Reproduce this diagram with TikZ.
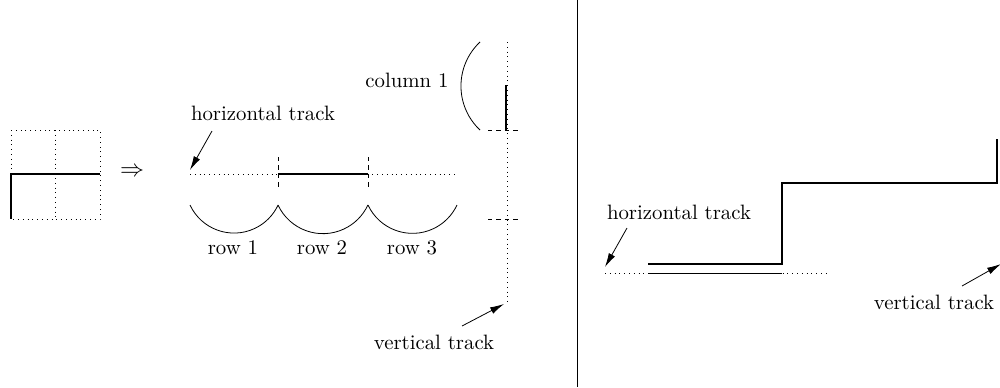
\documentclass[tikz,border=0pt]{standalone}
\usetikzlibrary{arrows.meta}
\begin{document}
\begin{tikzpicture}[x=0.5pt,y=-0.5pt,
  trk/.style={dotted, line width=0.4pt},
  wire/.style={line width=0.8pt},
  tick/.style={dash pattern=on 2.2pt off 2pt, line width=0.4pt},
  lbl/.style={inner sep=0pt, font=\fontsize{10.4}{12.5}\selectfont},
  ptr/.style={-{Latex[length=7pt,width=3.5pt]}, line width=0.4pt},
  brace/.style={line width=0.4pt}]
\useasboundingbox (0,0) rectangle (1000,387);
\clip (0,0) rectangle (1000,387);
% ---- left grid
\draw[trk] (11,130) rectangle (100,219);
\draw[trk] (55,130) -- (55,219);
\draw[trk] (11,174) -- (100,174);
\draw[wire] (100,174) -- (11,174) -- (11,219);
\node[inner sep=0pt, font=\fontsize{11.5}{13}\selectfont] (imp) at (132,172) {$\Rightarrow$};
% ---- horizontal track
\coordinate (hL) at (190,174);
\coordinate (hR) at (456,174);
\coordinate (hA) at (278,174);
\coordinate (hB) at (368,174);
\draw[trk] (hL) -- (hR);
\draw[wire] (hA) -- (hB);
\draw[tick] (278,157) -- (278,188);
\draw[tick] (368,157) -- (368,188);
\node[lbl] (htl) at (263,113) {horizontal track};
\coordinate (htp) at (190,170);
\draw[ptr] (212,131) -- (htp);
% ---- row arcs
\draw[brace] (190,205) arc[start angle=155, end angle=25, radius=48.6];
\draw[brace] (278,205) arc[start angle=155, end angle=25, radius=49.6];
\draw[brace] (368,205) arc[start angle=155, end angle=25, radius=49.1];
\node[lbl] (r1) at (233,248) {row 1};
\node[lbl] (r2) at (322,248) {row 2};
\node[lbl] (r3) at (412,248) {row 3};
% ---- vertical track
\coordinate (vT) at (507,42);
\coordinate (vB) at (507,305);
\draw[trk] (vT) -- (vB);
\draw[wire] (506,85) -- (506,130);
\draw[tick] (488,130) -- (519,130);
\draw[tick] (488,219) -- (519,219);
\draw[brace] (480,42) arc[start angle=226.8, end angle=133.2, radius=60.4];
\node[lbl] (c1) at (407,80) {column 1};
\node[lbl] (vtl) at (434,342) {vertical track};
\coordinate (vtp) at (504,304);
\draw[ptr] (462,326) -- (vtp);
% ---- divider
\draw[line width=0.4pt] (577,0) -- (577,387);
% ---- right panel
\draw[trk] (605,273) -- (827,273);
\draw[line width=0.5pt] (648,273) -- (782,273);
\draw[wire] (648,264) -- (782,264) -- (782,183) -- (997,183) -- (997,139);
\node[lbl] (htl2) at (679,212) {horizontal track};
\coordinate (htp2) at (605,267);
\draw[ptr] (627,228) -- (htp2);
\node[lbl] (vtl2) at (934,302) {vertical track};
\coordinate (vtp2) at (1001,264);
\draw[ptr] (962,286) -- (vtp2);
\end{tikzpicture}
\end{document}
